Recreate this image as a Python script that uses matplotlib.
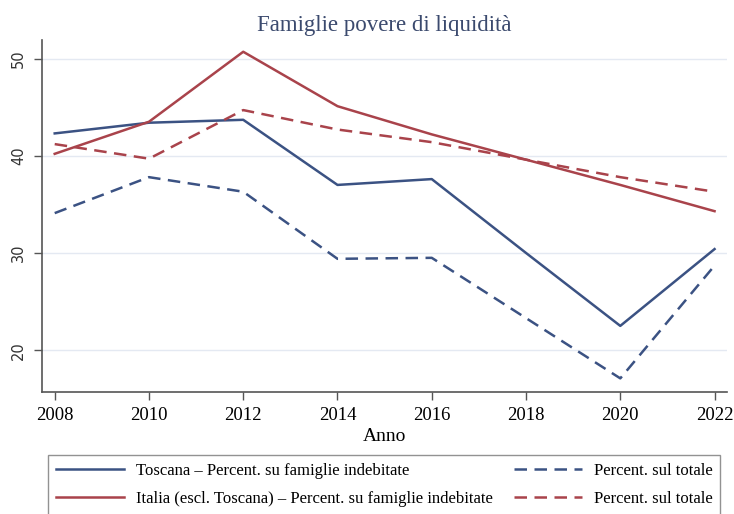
# -*- coding: utf-8 -*-
import numpy as np
import matplotlib.pyplot as plt

# dati
anni = [2008, 2010, 2012, 2014, 2016, 2018, 2020, 2022]
toscana_indeb = [42.3, 43.4, 43.7, 37.0, 37.6, 30.0, 22.5, 30.4]
toscana_tot = [34.1, 37.8, 36.3, 29.4, 29.5, 23.3, 17.1, 28.7]
italia_indeb = [40.2, 43.5, 50.7, 45.1, 42.2, 39.6, 37.0, 34.3]
italia_tot = [41.2, 39.7, 44.7, 42.7, 41.4, 39.6, 37.8, 36.3]

blu = '#3b5283'
rosso = '#a9434b'
serif = ['Liberation Serif', 'DejaVu Serif']
tratteggio = (0, (5, 3))

fig = plt.figure(figsize=(7.34, 5.14), dpi=100)
# assi in coordinate figura (sx 42px, basso 392px, dx 727px, alto 40px)
ax = fig.add_axes([0.0572, 0.2374, 0.933, 0.6846])

l1, = ax.plot(anni, toscana_indeb, color=blu, lw=1.8,
              label='Toscana – Percent. su famiglie indebitate')
l2, = ax.plot(anni, italia_indeb, color=rosso, lw=1.8,
              label='Italia (escl. Toscana) – Percent. su famiglie indebitate')
l3, = ax.plot(anni, toscana_tot, color=blu, lw=1.8, ls=tratteggio,
              label='Percent. sul totale')
l4, = ax.plot(anni, italia_tot, color=rosso, lw=1.8, ls=tratteggio,
              label='Percent. sul totale')

ax.set_xlim(2007.73, 2022.26)
ax.set_ylim(15.7, 51.9)
ax.set_xticks(anni)
ax.set_yticks([20, 30, 40, 50])
ax.grid(axis='y', color='#e4e9f2', lw=1)
ax.set_axisbelow(True)

for s in ['top', 'right']:
    ax.spines[s].set_visible(False)
for s in ['left', 'bottom']:
    ax.spines[s].set_color('#555555')
    ax.spines[s].set_linewidth(1.2)
ax.tick_params(axis='both', direction='out', length=5.5, color='#555555', width=1)
ax.tick_params(axis='x', pad=5)
ax.tick_params(axis='y', pad=6)

for t in ax.get_xticklabels():
    t.set_fontfamily(serif)
    t.set_fontsize(13.5)
for t in ax.get_yticklabels():
    t.set_fontfamily('DejaVu Sans')
    t.set_fontsize(10.5)
    t.set_rotation(90)
    t.set_va('center')
    t.set_color('#333333')

ax.set_xlabel('Anno', family=serif, fontsize=14, labelpad=3)
fig.suptitle('Famiglie povere di liquidità', x=0.524, y=0.97,
             family=serif, fontsize=16.5, color='#3b4a6e')

leg = fig.legend(handles=[l1, l2, l3, l4], ncol=2, loc='upper left',
                 bbox_to_anchor=(0.066, 0.0, 0.915, 0.1147), mode='expand',
                 prop={'family': serif, 'size': 12}, handlelength=4.1,
                 handletextpad=0.7,
                 frameon=True, fancybox=False, edgecolor='#777777',
                 borderaxespad=0, labelspacing=0.75, borderpad=0.45)
leg.get_frame().set_linewidth(1)

fig.savefig('out.png', dpi=100)
